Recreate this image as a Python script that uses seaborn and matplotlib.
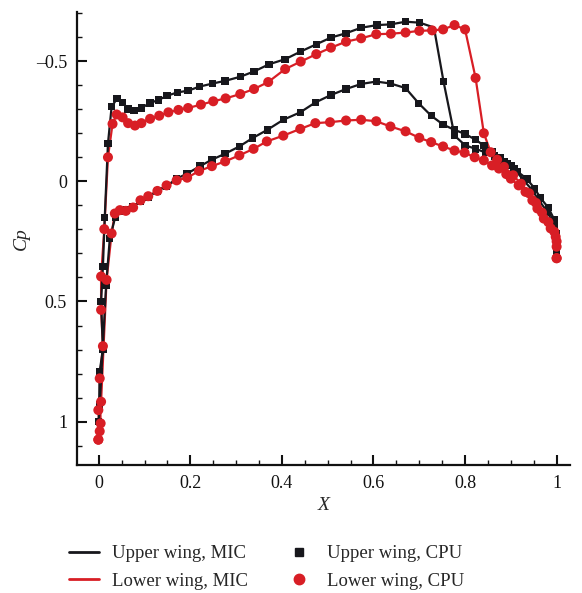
import numpy as np
import pandas as pd
import matplotlib
matplotlib.use("Agg")
import matplotlib.pyplot as plt
import seaborn as sns
from matplotlib.lines import Line2D
from matplotlib.ticker import MultipleLocator, FuncFormatter

# ---------------- data ----------------
# Upper wing: suction side (LE -> TE)
up_suc_x = [0.000, 0.002, 0.009, 0.005, 0.009, 0.013, 0.020, 0.028, 0.040, 0.052, 0.064, 0.077,
            0.093, 0.112, 0.130, 0.149, 0.172, 0.195, 0.220, 0.249, 0.276, 0.309, 0.339, 0.372,
            0.407, 0.441, 0.475, 0.507, 0.540, 0.573, 0.608, 0.638, 0.670, 0.701, 0.753, 0.777,
            0.800, 0.823, 0.845, 0.865, 0.885, 0.900, 0.915, 0.935, 0.952, 0.965, 0.982, 0.995,
            1.000, 1.000]
up_suc_cp = [1.000, 0.790, 0.700, 0.500, 0.355, 0.150, -0.157, -0.310, -0.345, -0.328, -0.301, -0.294,
             -0.305, -0.326, -0.338, -0.356, -0.370, -0.377, -0.394, -0.407, -0.418, -0.435, -0.457, -0.487,
             -0.508, -0.540, -0.570, -0.598, -0.616, -0.639, -0.650, -0.653, -0.664, -0.660, -0.415, -0.190,
             -0.150, -0.135, -0.120, -0.105, -0.080, -0.065, -0.040, -0.010, 0.030, 0.070, 0.110, 0.160,
             0.220, 0.300]
# Upper wing: pressure side (LE -> TE)
up_pre_x = [0.000, 0.002, 0.016, 0.024, 0.036, 0.046, 0.060, 0.075, 0.090, 0.108, 0.128, 0.148,
            0.170, 0.193, 0.221, 0.247, 0.276, 0.307, 0.336, 0.368, 0.403, 0.440, 0.473, 0.507,
            0.540, 0.573, 0.606, 0.637, 0.670, 0.699, 0.726, 0.752, 0.777, 0.800, 0.823, 0.841,
            0.860, 0.877, 0.892, 0.907, 0.928, 0.947, 0.961, 0.980, 0.994, 1.000, 1.000]
up_pre_cp = [1.000, 0.930, 0.431, 0.239, 0.148, 0.125, 0.120, 0.105, 0.085, 0.065, 0.040, 0.020,
             -0.011, -0.032, -0.063, -0.090, -0.115, -0.145, -0.180, -0.214, -0.256, -0.287, -0.328, -0.359,
             -0.384, -0.405, -0.415, -0.407, -0.388, -0.324, -0.273, -0.236, -0.214, -0.197, -0.173, -0.149,
             -0.125, -0.100, -0.073, -0.053, -0.004, 0.037, 0.079, 0.127, 0.182, 0.217, 0.300]

# Lower wing: suction side (LE -> TE)
lo_suc_x = [-0.001, 0.004, 0.002, 0.009, 0.005, 0.005, 0.012, 0.020, 0.030, 0.039, 0.052, 0.064,
            0.079, 0.093, 0.112, 0.132, 0.152, 0.174, 0.195, 0.223, 0.250, 0.277, 0.309, 0.339,
            0.370, 0.407, 0.441, 0.475, 0.507, 0.540, 0.573, 0.606, 0.638, 0.670, 0.700, 0.728,
            0.752, 0.777, 0.800, 0.823, 0.841, 0.856, 0.870, 0.885, 0.905, 0.922, 0.940, 0.955,
            0.968, 0.982, 0.995, 1.000, 1.000]
lo_suc_cp = [1.075, 1.007, 0.820, 0.686, 0.535, 0.396, 0.199, -0.100, -0.239, -0.278, -0.266, -0.242,
             -0.232, -0.242, -0.260, -0.273, -0.287, -0.297, -0.305, -0.319, -0.333, -0.345, -0.363, -0.384,
             -0.413, -0.467, -0.498, -0.529, -0.556, -0.581, -0.595, -0.612, -0.614, -0.619, -0.626, -0.628,
             -0.632, -0.650, -0.632, -0.430, -0.200, -0.121, -0.090, -0.060, -0.025, 0.010, 0.050, 0.090,
             0.130, 0.170, 0.210, 0.250, 0.320]
# Lower wing: pressure side (LE -> TE)
lo_pre_x = [-0.001, 0.002, -0.001, 0.005, 0.017, 0.028, 0.035, 0.046, 0.059, 0.075, 0.091, 0.108,
            0.128, 0.148, 0.170, 0.193, 0.219, 0.247, 0.276, 0.307, 0.338, 0.367, 0.403, 0.440,
            0.473, 0.505, 0.540, 0.573, 0.606, 0.637, 0.670, 0.700, 0.726, 0.752, 0.777, 0.799,
            0.821, 0.841, 0.859, 0.874, 0.890, 0.900, 0.917, 0.932, 0.947, 0.958, 0.972, 0.987,
            0.998, 1.000, 1.000]
lo_pre_cp = [1.075, 1.040, 0.952, 0.917, 0.410, 0.217, 0.134, 0.120, 0.123, 0.109, 0.079, 0.062,
             0.040, 0.017, -0.004, -0.015, -0.043, -0.063, -0.083, -0.108, -0.135, -0.166, -0.190, -0.218,
             -0.242, -0.246, -0.253, -0.256, -0.250, -0.228, -0.208, -0.181, -0.163, -0.145, -0.128, -0.119,
             -0.100, -0.087, -0.066, -0.053, -0.030, -0.011, 0.017, 0.044, 0.079, 0.113, 0.155, 0.196,
             0.231, 0.272, 0.320]

# MIC line has an extra bend at the shock foot of the upper wing
up_mic_corner_x = [0.732]
up_mic_corner_cp = [-0.640]

legend_labels = ["Upper wing, MIC", "Lower wing, MIC", "Upper wing, CPU", "Lower wing, CPU"]
x_ticks = [0, 0.2, 0.4, 0.6, 0.8, 1]
y_ticks = [-0.5, 0, 0.5, 1]

BLACK = "#17171c"
RED = "#d81e25"

# ---------------- build tables ----------------
def loop(px, pc, sx, sc):
    # pressure side reversed (TE -> LE) then suction side (LE -> TE)
    return list(px[::-1]) + list(sx), list(pc[::-1]) + list(sc)

i = up_suc_x.index(0.701) + 1
up_suc_mic_x = up_suc_x[:i] + up_mic_corner_x + up_suc_x[i:]
up_suc_mic_cp = up_suc_cp[:i] + up_mic_corner_cp + up_suc_cp[i:]

ux, uc = loop(up_pre_x, up_pre_cp, up_suc_mic_x, up_suc_mic_cp)
lx, lc = loop(lo_pre_x, lo_pre_cp, lo_suc_x, lo_suc_cp)
mic_up = pd.DataFrame({"X": ux, "Cp": uc})
mic_lo = pd.DataFrame({"X": lx, "Cp": lc})

cpu_up = pd.DataFrame({"X": up_suc_x + up_pre_x, "Cp": up_suc_cp + up_pre_cp})
cpu_lo = pd.DataFrame({"X": lo_suc_x + lo_pre_x, "Cp": lo_suc_cp + lo_pre_cp})

# ---------------- plot ----------------
sns.set_theme(style="ticks")
plt.rcParams["font.family"] = ["Liberation Serif", "DejaVu Serif"]

fig = plt.figure(figsize=(5.82, 5.93), dpi=100)
ax = fig.add_axes([0.132, 0.216, 0.848, 0.764])

sns.lineplot(data=mic_lo, x="X", y="Cp", sort=False, estimator=None, color=RED, lw=1.6, ax=ax)
sns.lineplot(data=mic_up, x="X", y="Cp", sort=False, estimator=None, color=BLACK, lw=1.6, ax=ax)
sns.scatterplot(data=cpu_up, x="X", y="Cp", marker="s", s=28, color=BLACK, edgecolor="none", ax=ax, zorder=3)
sns.scatterplot(data=cpu_lo, x="X", y="Cp", marker="o", s=52, color=RED, edgecolor="none", ax=ax, zorder=4)

ax.set_xlim(-0.048, 1.03)
ax.set_ylim(1.18, -0.705)
ax.set_xticks(x_ticks)
ax.set_yticks(y_ticks)
ax.xaxis.set_minor_locator(MultipleLocator(0.05))
ax.yaxis.set_minor_locator(MultipleLocator(0.1))

def fmt(v, pos):
    s = ("%g" % v)
    return s.replace("-", "\u2013")
ax.xaxis.set_major_formatter(FuncFormatter(fmt))
ax.yaxis.set_major_formatter(FuncFormatter(fmt))

for side in ["top", "right"]:
    ax.spines[side].set_visible(False)
for side in ["left", "bottom"]:
    ax.spines[side].set_linewidth(1.6)
    ax.spines[side].set_color("#111111")

ax.tick_params(axis="both", which="major", direction="in", length=7, width=1.5,
               labelsize=13, colors="#111111", pad=7)
ax.tick_params(axis="both", which="minor", direction="in", length=3.5, width=1.0, colors="#111111")

ax.set_xlabel("X", fontsize=14, style="italic", labelpad=4)
ax.set_ylabel("Cp", fontsize=14, style="italic", labelpad=4)

handles = [
    Line2D([], [], color=BLACK, lw=2),
    Line2D([], [], color=RED, lw=2),
    Line2D([], [], color=BLACK, marker="s", ls="none", markersize=6),
    Line2D([], [], color=RED, marker="o", ls="none", markersize=7.5),
]
fig.legend(handles, legend_labels, ncol=2, loc="center", bbox_to_anchor=(0.458, 0.043),
           frameon=False, fontsize=13.5, handlelength=1.6, columnspacing=1.9,
           labelspacing=0.55, handletextpad=0.7)

fig.savefig("out.png", dpi=100)
